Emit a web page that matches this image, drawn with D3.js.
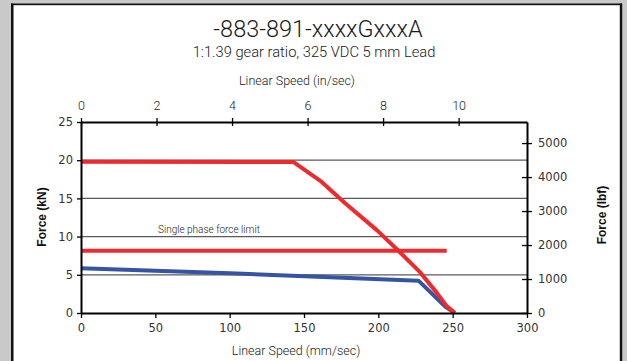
<!DOCTYPE html>
<html>
<head>
<meta charset="utf-8">
<script src="https://cdn.jsdelivr.net/npm/d3@7"></script>
<style>
  html, body { margin: 0; padding: 0; background: #c9c9c9; }
  svg { display: block; }
</style>
</head>
<body>
<svg id="chart" width="627" height="361"></svg>
<script>
// Force / speed curve for the -883-891 actuator, 5 mm lead
const titleText = "-883-891-xxxxGxxxA";
const subtitleText = "1:1.39 gear ratio, 325 VDC 5 mm Lead";
const topAxisTitle = "Linear Speed (in/sec)";
const bottomAxisTitle = "Linear Speed (mm/sec)";
const leftAxisTitle = "Force (kN)";
const rightAxisTitle = "Force (lbf)";
const limitLabel = "Single phase force limit";

const speedTicksMm = [0, 50, 100, 150, 200, 250, 300];
const speedTicksIn = [0, 2, 4, 6, 8, 10];
const forceTicksKN = [0, 5, 10, 15, 20, 25];
const forceTicksLbf = [0, 1000, 2000, 3000, 4000, 5000];
const gridForces = [5, 10, 15, 20];

// peak force curve (red)
const peakSpeed = [0, 143, 161, 177.5, 199, 213, 228, 239.5, 246, 251.5];
const peakForce = [19.8, 19.75, 17.3, 14.4, 10.85, 8.25, 5.35, 2.6, 0.9, 0];

// single phase force limit (red, flat)
const limitSpeed = [0, 246];
const limitForce = [8.15, 8.15];

// continuous force curve (blue)
const contSpeed = [0, 100, 227, 245, 251.5];
const contForce = [5.87, 5.2, 4.23, 0.85, 0];

const MM_PER_IN = 25.4;
const LBF_PER_KN = 224.809;

const svg = d3.select("#chart");

// page panel with its frame
svg.append("rect").attr("x", 13).attr("y", 5).attr("width", 607).attr("height", 360).attr("fill", "#fff");
svg.append("rect").attr("x", 11).attr("y", 3.5).attr("width", 2.5).attr("height", 360).attr("fill", "#111");
svg.append("rect").attr("x", 11).attr("y", 3.5).attr("width", 611).attr("height", 1.7).attr("fill", "#111");
svg.append("rect").attr("x", 619.8).attr("y", 3.5).attr("width", 2.4).attr("height", 360).attr("fill", "#111");

const x = d3.scaleLinear().domain([0, 300]).range([81, 527]);
const y = d3.scaleLinear().domain([0, 25]).range([313, 122]);
const xIn = d3.scaleLinear().domain([0, 300 / MM_PER_IN]).range([81, 527]);
const yLbf = d3.scaleLinear().domain([0, 25 * LBF_PER_KN]).range([313, 122]);

const titleFont = "Roboto, 'Liberation Sans', sans-serif";
const tickFont = "'DejaVu Sans', Verdana, sans-serif";

// titles
svg.append("text").attr("x", 318).attr("y", 37).attr("text-anchor", "middle")
  .attr("font-family", titleFont).attr("font-weight", 300).attr("font-size", 23.5)
  .attr("fill", "#1a1a1a").text(titleText);
svg.append("text").attr("x", 314).attr("y", 57).attr("text-anchor", "middle")
  .attr("font-family", titleFont).attr("font-weight", 300).attr("font-size", 14.7)
  .attr("fill", "#1a1a1a").text(subtitleText);
svg.append("text").attr("x", 297).attr("y", 85).attr("text-anchor", "middle")
  .attr("font-family", titleFont).attr("font-weight", 300).attr("font-size", 12.5)
  .attr("fill", "#1a1a1a").text(topAxisTitle);
svg.append("text").attr("x", 296).attr("y", 355).attr("text-anchor", "middle")
  .attr("font-family", titleFont).attr("font-weight", 300).attr("font-size", 12.5)
  .attr("fill", "#1a1a1a").text(bottomAxisTitle);

svg.append("text").attr("transform", "translate(46,217) rotate(-90)").attr("text-anchor", "middle")
  .attr("font-family", "'Liberation Sans', Arial, sans-serif").attr("font-weight", "bold")
  .attr("font-size", 12).attr("fill", "#111").text(leftAxisTitle);
svg.append("text").attr("transform", "translate(606,215) rotate(-90)").attr("text-anchor", "middle")
  .attr("font-family", "'Liberation Sans', Arial, sans-serif").attr("font-weight", "bold")
  .attr("font-size", 12).attr("fill", "#111").text(rightAxisTitle);

// horizontal gridlines
svg.append("g").selectAll("line").data(gridForces).join("line")
  .attr("x1", x(0)).attr("x2", x(300))
  .attr("y1", d => y(d)).attr("y2", d => y(d))
  .attr("stroke", "#5a5a5a").attr("stroke-width", 1.3);

// data lines
const line = d3.line().x(d => x(d[0])).y(d => y(d[1]));
const zip = (a, b) => a.map((v, i) => [v, b[i]]);

svg.append("path").datum(zip(limitSpeed, limitForce)).attr("d", line)
  .attr("fill", "none").attr("stroke", "#ee2a2e").attr("stroke-width", 4);
svg.append("path").datum(zip(contSpeed, contForce)).attr("d", line)
  .attr("fill", "none").attr("stroke", "#3753a3").attr("stroke-width", 4)
  .attr("stroke-linejoin", "round");
svg.append("path").datum(zip(peakSpeed, peakForce)).attr("d", line)
  .attr("fill", "none").attr("stroke", "#ee2a2e").attr("stroke-width", 4)
  .attr("stroke-linejoin", "round");

svg.append("text").attr("x", 158).attr("y", 232.5)
  .attr("font-family", titleFont).attr("font-weight", 300).attr("font-size", 10)
  .attr("fill", "#222").text(limitLabel);

// axes
function styleAxis(g) {
  g.select(".domain").attr("stroke", "#000").attr("stroke-width", 2);
  g.selectAll(".tick line").attr("stroke", "#000").attr("stroke-width", 1.3);
  g.selectAll(".tick text").attr("fill", "#333").attr("font-family", tickFont).attr("font-size", 11.5);
}

const gLeft = svg.append("g").attr("transform", `translate(${x(0)},0)`)
  .call(d3.axisLeft(y).tickValues(forceTicksKN).tickSize(4).tickSizeOuter(0).tickPadding(4))
  .call(styleAxis);

const gBottom = svg.append("g").attr("transform", `translate(0,${y(0)})`)
  .call(d3.axisBottom(x).tickValues(speedTicksMm).tickSize(5).tickSizeOuter(0).tickPadding(6))
  .call(styleAxis);

const gTop = svg.append("g").attr("transform", `translate(0,${y(25)})`)
  .call(d3.axisTop(xIn).tickValues(speedTicksIn).tickSize(4).tickSizeOuter(0).tickPadding(8))
  .call(styleAxis);
gTop.selectAll(".tick line").attr("y1", 4).attr("y2", -4);
gTop.selectAll(".tick text").attr("font-family", titleFont).attr("font-weight", 300).attr("font-size", 12.5).attr("fill", "#1a1a1a");

const gRight = svg.append("g").attr("transform", `translate(${x(300)},0)`)
  .call(d3.axisRight(yLbf).tickValues(forceTicksLbf).tickSize(5).tickSizeOuter(0).tickPadding(6).tickFormat(d3.format("d")))
  .call(styleAxis);
gRight.selectAll(".tick line").attr("x1", -5).attr("x2", 5);
</script>
</body>
</html>
